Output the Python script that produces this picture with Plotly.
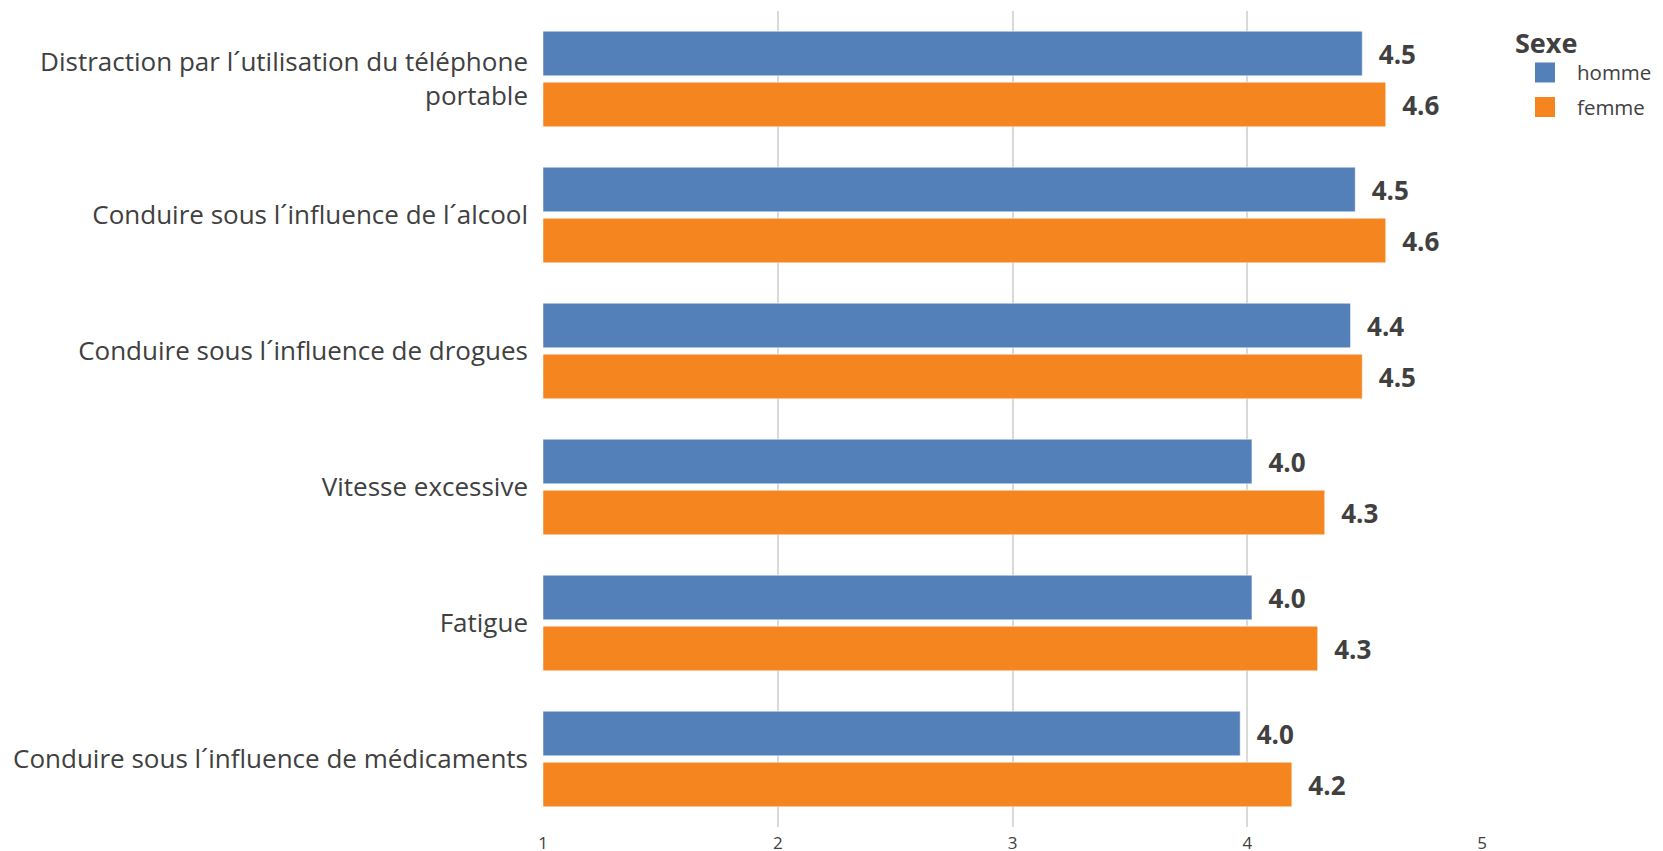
import plotly.graph_objects as go

categories = [
    "Distraction par l´utilisation du téléphone<br>portable",
    "Conduire sous l´influence de l´alcool",
    "Conduire sous l´influence de drogues",
    "Vitesse excessive",
    "Fatigue",
    "Conduire sous l´influence de médicaments",
]
homme = [4.49, 4.46, 4.44, 4.02, 4.02, 3.97]
femme = [4.59, 4.59, 4.49, 4.33, 4.30, 4.19]
x_ticks = [1, 2, 3, 4, 5]
series = [("homme", homme, "#5480B9"), ("femme", femme, "#F5861F")]

FONT = "Open Sans"
TXT = "#404040"
fig = go.Figure()
for name, vals, color in series:
    fig.add_trace(go.Bar(
        y=categories, x=[v - 1 for v in vals], base=1, orientation="h", name=name,
        marker=dict(color=color, line=dict(color="rgba(255,255,255,0.5)", width=1)),
        text=[f"\u00a0\u00a0{v:.1f}" for v in vals], textposition="outside",
        textfont=dict(family=FONT, size=26, color=TXT, weight="bold"),
        cliponaxis=False, showlegend=False, legendgroup=name,
    ))
# legend entries with larger square symbols
for name, vals, color in series:
    fig.add_trace(go.Scatter(
        x=[None], y=[None], mode="markers", name=name, legendgroup=name,
        marker=dict(symbol="square", size=16, color=color,
                    line=dict(color=color, width=4)),
    ))

fig.update_layout(
    width=1663, height=851,
    margin=dict(l=535, r=189, t=3, b=32),
    paper_bgcolor="white", plot_bgcolor="white",
    barmode="group", bargap=0.25, bargroupgap=0.125,
    font=dict(family=FONT, color=TXT),
    xaxis=dict(range=[1, 5], tickvals=x_ticks, showgrid=True, gridcolor="#D9D9D9",
               gridwidth=1.5, zeroline=False, showline=False,
               tickfont=dict(size=17, color=TXT), ticks="", ticklabelstandoff=4),
    yaxis=dict(autorange="reversed", tickfont=dict(size=26, color=TXT),
               showgrid=False, ticks="", ticklabelstandoff=14),
    legend=dict(title=dict(text="<b>Sexe</b>", font=dict(size=27, color=TXT)),
                x=1.033, xanchor="left", y=0.992, yanchor="top",
                font=dict(size=20.5, color=TXT), itemwidth=54, tracegroupgap=5),
    showlegend=True,
)
fig.write_html("out.html")
